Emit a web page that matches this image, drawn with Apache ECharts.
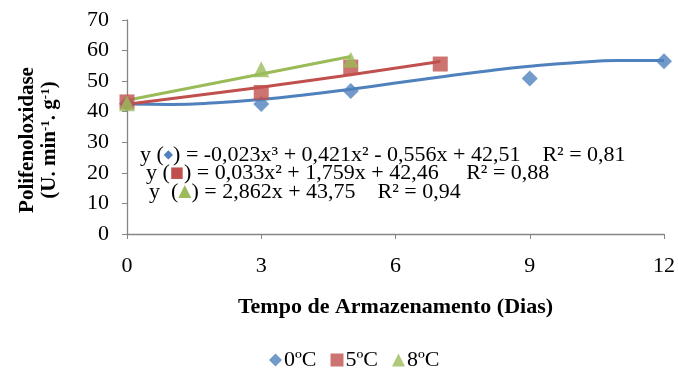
<!DOCTYPE html>
<html><head><meta charset="utf-8">
<script src="https://cdn.jsdelivr.net/npm/echarts@6/dist/echarts.min.js"></script>
<style>html,body{margin:0;padding:0;background:#fff}#c{width:678px;height:369px}</style>
</head><body><div id="c"></div>
<script>
// observed points
const days0 = [0, 3, 5, 9, 12];
const vals0 = [42.6, 42.5, 46.8, 50.9, 56.5];
const days5 = [0, 3, 5, 7];
const vals5 = [43.2, 46.3, 54.6, 55.6];
const days8 = [0, 3, 5];
const vals8 = [42.8, 53.9, 57.0];
// trend lines
const trendX0 = [0, 1, 2, 3, 4, 5, 6, 7, 8, 9, 10, 11, 12];
const trendY0 = [42.51, 42.35, 42.90, 44.01, 45.55, 47.38, 49.36, 51.36, 53.23, 54.84, 56.05, 56.72, 56.72];
const trendX5 = [0, 3, 5, 7];
const trendY5 = [42.46, 48.03, 52.08, 56.39];
const trendX8 = [0, 5];
const trendY8 = [43.75, 58.06];
const legendNames = ['0ºC', '5ºC', '8ºC'];
const xTicks = [0, 3, 6, 9, 12];

const C0 = '#4F81BD', C5 = '#C0504D', C8 = '#9BBB59';
const F = '"Liberation Serif","Times New Roman",serif';
const zip = (a, b) => a.map((v, i) => [v, b[i]]);

const chart = echarts.init(document.getElementById('c'));
chart.setOption({
  animation: false,
  textStyle: { fontFamily: F },
  grid: { left: 127, right: 13, top: 20, bottom: 135, containLabel: false },
  xAxis: {
    type: 'value', min: 0, max: 12, interval: 3,
    axisLine: { lineStyle: { color: '#868686', width: 1.3 } },
    axisTick: { show: true, length: 5, lineStyle: { color: '#868686' } },
    splitLine: { show: false },
    axisLabel: { color: '#000', fontSize: 22, fontFamily: F, margin: 21,
      formatter: v => xTicks.includes(v) ? String(v) : '' },
    name: 'Tempo de Armazenamento (Dias)', nameLocation: 'middle', nameGap: 62,
    nameTextStyle: { color: '#000', fontSize: 22, fontWeight: 'bold', fontFamily: F }
  },
  yAxis: {
    type: 'value', min: 0, max: 70, interval: 10,
    axisLine: { show: true, lineStyle: { color: '#868686', width: 1.3 } },
    axisTick: { show: true, length: 5, lineStyle: { color: '#868686' } },
    splitLine: { show: false },
    axisLabel: { color: '#000', fontSize: 22, fontFamily: F, margin: 18 }
  },
  legend: {
    top: 344, left: 264, itemWidth: 13, itemHeight: 13, itemGap: 14,
    textStyle: { fontSize: 22, fontFamily: F, color: '#000', padding: [0, 0, 0, -3] },
    data: [
      { name: legendNames[0], icon: 'diamond' },
      { name: legendNames[1], icon: 'rect' },
      { name: legendNames[2], icon: 'triangle' }
    ]
  },
  series: [
    { type: 'line', name: 't0', data: zip(trendX0, trendY0), smooth: true, showSymbol: false,
      lineStyle: { color: C0, width: 3 }, z: 2, silent: true },
    { type: 'line', name: 't5', data: zip(trendX5, trendY5), smooth: true, showSymbol: false,
      lineStyle: { color: C5, width: 3 }, z: 2, silent: true },
    { type: 'line', name: 't8', data: zip(trendX8, trendY8), showSymbol: false,
      lineStyle: { color: C8, width: 3 }, z: 2, silent: true },
    { type: 'scatter', name: legendNames[0], data: zip(days0, vals0), symbol: 'diamond', symbolSize: 16,
      itemStyle: { color: C0 }, z: 3 },
    { type: 'scatter', name: legendNames[1], data: zip(days5, vals5), symbol: 'rect', symbolSize: 15,
      itemStyle: { color: C5 }, z: 3 },
    { type: 'scatter', name: legendNames[2], data: zip(days8, vals8), symbol: 'triangle', symbolSize: 16,
      itemStyle: { color: C8 }, z: 4 }
  ],
  graphic: [
    { type: 'text', x: 39, y: 140, rotation: Math.PI / 2, z: 10, style: {
      text: '{t|Polifenoloxidase}\n{t|(U. min}{s|-1}{t|. g}{s|-1}{t|)}',
      align: 'center', verticalAlign: 'middle', fill: '#000',
      rich: {
        t: { fontSize: 21, fontWeight: 'bold', fontFamily: F, fill: '#000', lineHeight: 22 },
        s: { fontSize: 13, fontWeight: 'bold', fontFamily: F, fill: '#000', verticalAlign: 'top', lineHeight: 22 }
      } } },
    { type: 'text', x: 140, y: 155, z: 10, style: {
      text: 'y ({b|◆}) = -0,023x³ + 0,421x² - 0,556x + 42,51    R² = 0,81',
      fontSize: 22, fontFamily: F, fill: '#000', verticalAlign: 'middle',
      rich: { b: { fontSize: 12, fill: C0, fontFamily: '"DejaVu Sans"' } } } },
    { type: 'text', x: 146, y: 173, z: 10, style: {
      text: 'y ({r|■}) = 0,033x² + 1,759x + 42,46     R² = 0,88',
      fontSize: 22, fontFamily: F, fill: '#000', verticalAlign: 'middle',
      rich: { r: { fontSize: 15, fill: C5, fontFamily: '"DejaVu Sans"' } } } },
    { type: 'text', x: 149, y: 192, z: 10, style: {
      text: 'y  ({g|▲}) = 2,862x + 43,75    R² = 0,94',
      fontSize: 22, fontFamily: F, fill: '#000', verticalAlign: 'middle',
      rich: { g: { fontSize: 17, fill: C8, fontFamily: '"DejaVu Sans"' } } } }
  ]
});
</script></body></html>
